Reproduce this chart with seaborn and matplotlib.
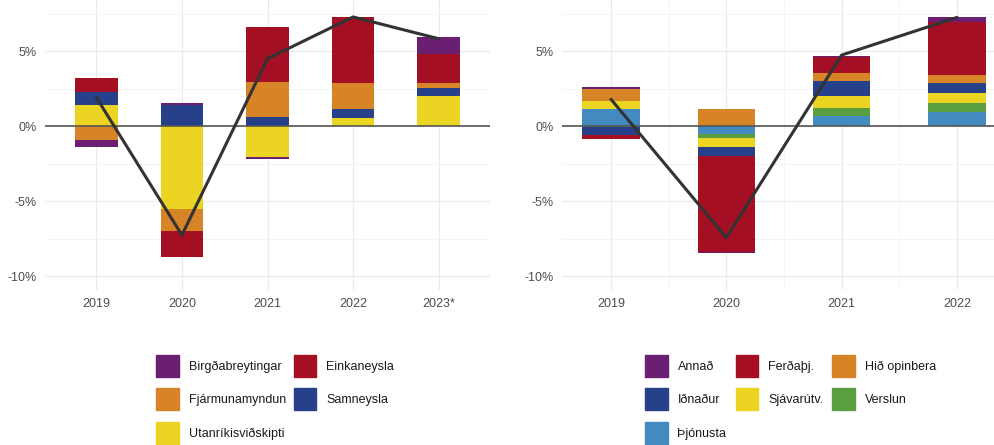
import numpy as np
import pandas as pd
import seaborn as sns
import matplotlib.pyplot as plt
from matplotlib.patches import Patch
from matplotlib.ticker import FixedLocator

# left chart: contributions to GDP growth by expenditure component
years_l = ["2019", "2020", "2021", "2022", "2023*"]
birgda = [-0.48, 0.13, -0.11, 0.0, 1.09]
einkaneysla = [0.90, -1.73, 3.71, 4.40, 1.98]
fjarmuna = [-0.90, -1.47, 2.33, 1.73, 0.33]
samneysla = [0.90, 1.38, 0.58, 0.60, 0.49]
utanrikis = [1.40, -5.53, -2.09, 0.51, 2.02]
total_l = [1.90, -7.27, 4.49, 7.27, 5.82]

# right chart: contributions by sector
years_r = ["2019", "2020", "2021", "2022"]
annad = [0.11, -0.07, 0.06, 0.31]
ferdathj = [-0.30, -6.38, 1.02, 3.51]
opinbera = [0.80, 1.11, 0.54, 0.53]
idnadur = [-0.50, -0.60, 1.00, 0.71]
sjavarutv = [0.58, -0.60, 0.80, 0.67]
verslun = [-0.08, -0.29, 0.53, 0.60]
thjonusta = [1.11, -0.51, 0.69, 0.91]
total_r = [1.78, -7.44, 4.73, 7.24]

purple, red, orange, blue = "#6a1f73", "#a50f24", "#d68426", "#26418a"
yellow, green, lblue = "#ebd422", "#5b9e3f", "#428ac0"

left_df = pd.DataFrame({"Birgðabreytingar": birgda, "Einkaneysla": einkaneysla,
                        "Fjármunamyndun": fjarmuna, "Samneysla": samneysla,
                        "Utanríkisviðskipti": utanrikis}, index=years_l)
left_cols = [purple, red, orange, blue, yellow]

right_df = pd.DataFrame({"Annað": annad, "Ferðaþj.": ferdathj, "Hið opinbera": opinbera,
                         "Iðnaður": idnadur, "Sjávarútv.": sjavarutv, "Verslun": verslun,
                         "Þjónusta": thjonusta}, index=years_r)
right_cols = [purple, red, orange, blue, yellow, green, lblue]

sns.set_theme(style="whitegrid")
plt.rcParams['font.family'] = ['Liberation Sans', 'DejaVu Sans']

W, H = 995, 445
fig = plt.figure(figsize=(W / 100, H / 100), dpi=100)
fig.patch.set_facecolor("white")


def stacked(ax, df, cols, total, xlim, minor):
    x = np.arange(len(df))
    pos = np.zeros(len(df))
    neg = np.zeros(len(df))
    # ggplot stacks in reverse legend order from the zero line outward
    for name, c in list(zip(df.columns, cols))[::-1]:
        v = df[name].values
        bottom = np.where(v >= 0, pos, neg)
        ax.bar(x, v, bottom=bottom, width=0.5, color=c, linewidth=0, zorder=2)
        pos = pos + np.where(v >= 0, v, 0)
        neg = neg + np.where(v < 0, v, 0)
    ax.axhline(0, color="#555555", lw=1.2, zorder=3)
    sns.lineplot(x=x, y=total, ax=ax, color="#333333", lw=2.2, zorder=4)
    ax.set_xlim(*xlim)
    ax.set_ylim(-10.93, 8.4)
    ax.set_xticks(x)
    ax.set_xticklabels(df.index)
    ax.set_yticks([-10, -5, 0, 5])
    ax.set_yticklabels(["-10%", "-5%", "0%", "5%"])
    ax.yaxis.set_minor_locator(FixedLocator([-7.5, -2.5, 2.5, 7.5]))
    if minor:
        ax.xaxis.set_minor_locator(FixedLocator(x[:-1] + 0.5))
    ax.grid(which="major", color="#ebebeb", lw=0.9)
    ax.grid(which="minor", color="#f2f2f2", lw=0.6)
    ax.set_axisbelow(True)
    for s in ax.spines.values():
        s.set_visible(False)
    ax.tick_params(which="both", length=0, labelsize=9, labelcolor="#4d4d4d")
    ax.tick_params(axis="y", pad=6)
    ax.tick_params(axis="x", pad=6)
    ax.set_xlabel("")
    ax.set_ylabel("")
    ax.set_facecolor("white")


ax1 = fig.add_axes([45 / W, 155 / H, 445 / W, 290 / H])
stacked(ax1, left_df, left_cols, total_l, (-0.6, 4.6), False)

ax2 = fig.add_axes([562 / W, 155 / H, 444 / W, 290 / H])
stacked(ax2, right_df, right_cols, total_r, (-0.425, 3.425), True)

leg_kw = dict(frameon=False, fontsize=9, handlelength=1.8, handleheight=2.33,
              labelspacing=0.92, handletextpad=0.8, borderpad=0, borderaxespad=0,
              loc="upper left")

# matplotlib fills columns first, so reorder to get row-wise reading
order_l = [0, 2, 4, 1, 3]
h_l = [Patch(color=left_cols[i], label=left_df.columns[i]) for i in order_l]
lg1 = fig.legend(handles=h_l, ncol=2, columnspacing=0.64,
                 bbox_to_anchor=(156 / W, 1 - 355 / H), **leg_kw)
for t in lg1.get_texts():
    t.set_color("#1a1a1a")

order_r = [0, 3, 6, 1, 4, 2, 5]
h_r = [Patch(color=right_cols[i], label=right_df.columns[i]) for i in order_r]
lg2 = fig.legend(handles=h_r, ncol=3, columnspacing=0.72,
                 bbox_to_anchor=(645 / W, 1 - 355 / H), **leg_kw)
for t in lg2.get_texts():
    t.set_color("#1a1a1a")

fig.savefig("out.png", dpi=100)
